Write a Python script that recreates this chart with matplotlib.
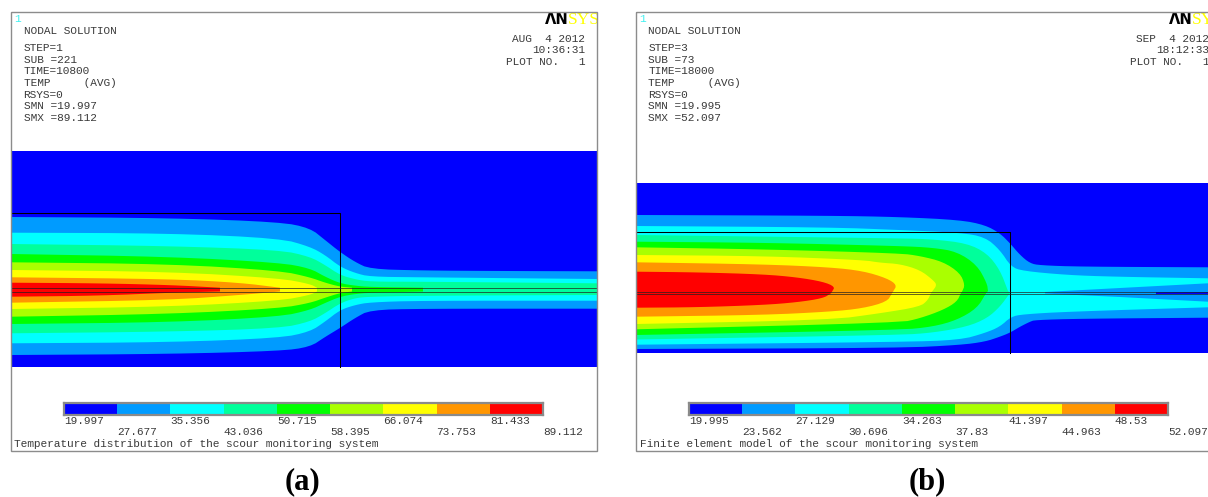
import matplotlib
matplotlib.use("Agg")
import matplotlib.pyplot as plt
from matplotlib.patches import Rectangle

W, H = 1208, 497
MONO = "Liberation Mono"
INK = "#3a3a3a"

band_colors = ["#0000FF", "#009BFF", "#00FFFF", "#00FF9B", "#00FF00",
               "#AAFF00", "#FFFF00", "#FF9600", "#FF0000"]

# ---- panel (a) contour boundaries (axial position, radial position)
a_up_1 = [(11,217),(170,218),(280,222),(310,228),(325,240),(340,252),(355,262),(370,269),(420,270.5),(500,271),(597,271.3)]
a_lo_1 = [(11,355),(170,354),(280,351),(310,347),(325,337),(340,328),(355,318),(370,310),(420,308.7),(597,308.7)]
a_up_2 = [(11,232.7),(170,233.3),(280,238.3),(310,246.7),(325,255),(340,266.7),(355,273),(370,276.7),(420,277.3),(597,279)]
a_lo_2 = [(11,343.3),(170,342.3),(280,338),(310,331.7),(325,321.7),(340,310),(355,305),(370,302.3),(420,300.7),(597,300.7)]
a_up_3 = [(11,244),(170,246),(280,250),(310,256.7),(325,265),(340,275),(355,279.3),(370,281.7),(420,281.7),(597,283.3)]
a_lo_3 = [(11,333.3),(170,331.7),(280,328.3),(310,321.7),(325,313.3),(340,303.3),(355,298),(370,296.7),(420,295.7),(597,295)]
a_up_4 = [(11,254),(170,256.7),(280,262.7),(310,268.3),(325,276.7),(340,283.3),(355,285.7),(370,287),(423,287.7)]
a_lo_4 = [(11,324),(170,322.3),(280,316.7),(310,310),(325,303),(340,296.7),(355,294),(370,292.7),(423,291.5)]
a_up_5 = [(11,262.3),(170,264),(280,270.7),(310,277.3),(325,282.7),(340,286.7),(352,287.7)]
a_lo_5 = [(11,316.7),(170,314),(280,308.3),(310,303),(325,297.7),(340,293),(352,291.5)]
a_up_6 = [(11,270),(170,271.7),(280,278.3),(310,284),(317,287.7)]
a_lo_6 = [(11,309),(170,306.7),(280,300.7),(310,295),(317,291.5)]
a_up_7 = [(11,277.3),(170,279),(240,282.7),(280,287.7)]
a_lo_7 = [(11,302.7),(170,300),(240,295),(280,291.5)]
a_up_8 = [(11,282.7),(100,283.3),(170,285),(220,287.7)]
a_lo_8 = [(11,296.7),(100,295.7),(170,292.7),(220,291.5)]

# ---- panel (b) contour boundaries
b_up_1 = [(636,215),(830,215.7),(900,217),(960,220),(985,225),(1000,233.3),(1010,243.3),(1020,255),(1030,263.3),(1040,265.3),(1080,266.7),(1208,267.3)]
b_lo_1 = [(636,349),(900,348),(960,345),(985,341.7),(1000,336.7),(1010,332.7),(1020,326.7),(1030,321.7),(1035,320),(1080,318.7),(1208,317.7)]
b_up_2 = [(636,226),(830,227.3),(900,230),(960,232.7),(985,237),(1000,250),(1011,266.7),(1023,271),(1067,275),(1113,276.7),(1208,278.3)]
b_lo_2 = [(636,344.7),(900,342),(960,340),(985,333),(1000,326.7),(1011,316.7),(1023,314.3),(1067,311.7),(1208,307.3)]
b_up_3 = [(636,235),(900,238.3),(933,239.3),(967,243.3),(987,253.3),(1000,270),(1008,291)]
b_lo_3 = [(636,339.5),(900,335),(933,332.7),(967,326.7),(987,318.3),(1000,306.7),(1010,293)]
b_up_4 = [(636,241.7),(763,242.7),(900,246),(933,247.7),(957,251.7),(977,265),(987,283.3),(988,291)]
b_lo_4 = [(636,335),(900,330),(933,326.7),(957,320),(977,308.3),(986,293.3)]
b_up_5 = [(636,247.3),(763,249.3),(900,253.3),(920,256),(943,261.7),(960,273),(965,285),(962,291.7)]
b_lo_5 = [(636,329.3),(900,322.7),(920,318.3),(943,310),(957,301.7),(961,292.7)]
b_up_6 = [(636,255),(763,256),(863,260),(880,262.7),(900,264),(920,270),(933,280),(937,285),(932,291.7)]
b_lo_6 = [(636,324),(830,320),(880,313.3),(920,306.7),(928,300),(931,292.7)]
b_up_7 = [(636,262.3),(763,264.3),(830,267.3),(863,271),(887,278.3),(897,285),(893,291.7)]
b_lo_7 = [(636,316.7),(763,315),(830,311.7),(863,308.3),(887,301.7),(892,293.3)]
b_up_8 = [(636,271.7),(697,272.3),(763,274.3),(797,277.3),(823,281.7),(835,286.7),(832,291.7)]
b_lo_8 = [(636,307.7),(697,307.3),(763,305),(797,302.3),(823,298.3),(831,293.3)]
b_wedge_up = [(1045,292),(1120,288),(1208,283.3)]
b_wedge_lo = [(1045,293.5),(1120,297),(1208,301.7)]
b_core_up = [(1156,291.7),(1208,291.7)]
b_core_lo = [(1156,293.7),(1208,293.7)]
b_island_1 = [(1024.7,284),(1031,280.6),(1037,280),(1045.3,283.5),(1040,286.8),(1031,287.7)]
b_island_2 = [(1025,301.5),(1031,298),(1037,297.7),(1045.3,301.7),(1039,304.8),(1032,305.7)]

# ---- legend levels and labels
a_levels = [19.997, 27.677, 35.356, 43.036, 50.715, 58.395, 66.074, 73.753, 81.433, 89.112]
a_labels = ["19.997", "27.677", "35.356", "43.036", "50.715", "58.395", "66.074", "73.753", "81.433", "89.112"]
b_levels = [19.995, 23.562, 27.129, 30.696, 34.263, 37.83, 41.397, 44.963, 48.53, 52.097]
b_labels = ["19.995", "23.562", "27.129", "30.696", "34.263", "37.83", "41.397", "44.963", "48.53", "52.097"]

a_info = ["STEP=1", "SUB =221", "TIME=10800", "TEMP     (AVG)", "RSYS=0", "SMN =19.997", "SMX =89.112"]
b_info = ["STEP=3", "SUB =73", "TIME=18000", "TEMP     (AVG)", "RSYS=0", "SMN =19.995", "SMX =52.097"]
a_stamp = ["AUG  4 2012", "10:36:31", "PLOT NO.   1"]
b_stamp = ["SEP  4 2012", "18:12:33", "PLOT NO.   1"]
a_title = "Temperature distribution of the scour monitoring system"
b_title = "Finite element model of the scour monitoring system"

fig = plt.figure(figsize=(W / 100, H / 100), dpi=100, facecolor="white")
ax = fig.add_axes([0, 0, 1, 1])
ax.set_xlim(0, W)
ax.set_ylim(H, 0)
ax.axis("off")


def round_corners(pts, passes=2):
    # Corner cutting for the drawn outline only; end points stay where they are.
    for _ in range(passes):
        out = [pts[0]]
        for (x0, y0), (x1, y1) in zip(pts, pts[1:]):
            out.append((0.75 * x0 + 0.25 * x1, 0.75 * y0 + 0.25 * y1))
            out.append((0.25 * x0 + 0.75 * x1, 0.25 * y0 + 0.75 * y1))
        out.append(pts[-1])
        pts = out
    return pts


def band(up, lo, color, z=2, smooth=True):
    u, l = (round_corners(up), round_corners(lo)) if smooth else (up, lo)
    pts = list(u) + list(l)[::-1]
    ax.fill([p[0] for p in pts], [p[1] for p in pts], color=color, lw=0, zorder=z)


def colorbar(x0, levels, labels):
    cax = fig.add_axes([x0 / W, 1 - 414.5 / H, 479 / W, 11.5 / H])
    cax.barh(0, [b - a for a, b in zip(levels, levels[1:])], left=levels[:-1],
             height=1, color=band_colors, lw=0)
    cax.set_xlim(levels[0], levels[-1])
    cax.set_ylim(-0.5, 0.5)
    cax.set_xticks([])
    cax.set_yticks([])
    for s in cax.spines.values():
        s.set_color("#8a8a8a")
        s.set_linewidth(1.6)
    for i, (v, t) in enumerate(zip(levels, labels)):
        y = 7.0 if i % 2 == 0 else 17.6
        if i == len(levels) - 1:
            y = 17.6
        cax.annotate(t, xy=(v, 0), xycoords=("data", "axes fraction"),
                     xytext=(0, -y * 0.72), textcoords="offset points",
                     ha="left", va="center", family=MONO, fontsize=7.97, color=INK)


def panel(x0, x1, top, bot, px, stamp_x, info, stamp, title, levels, labels,
          bar_x, boxtop, boxright, line_y, bands):
    ax.add_patch(Rectangle((x0, 12), x1 - x0, 439, fill=False, ec="#8c8c8c", lw=1, zorder=6))
    ax.add_patch(Rectangle((x0, top), x1 - x0, bot - top, color=band_colors[0], lw=0, zorder=1))
    for i, (u, l) in enumerate(bands):
        band(u, l, band_colors[i + 1])
    ax.plot([x0, boxright, boxright], [boxtop, boxtop, bot], color="black", lw=0.75, zorder=5)
    for y in line_y:
        ax.plot([x0, x1], [y, y], color="#202020", lw=0.65, alpha=0.75, zorder=5)
    ax.text(px - 9, 19.5, "1", family=MONO, fontsize=8, color="#40f0f0", ha="left", va="center")
    ax.text(px, 31, "NODAL SOLUTION", family=MONO, fontsize=7.97, color=INK, ha="left", va="center")
    for i, t in enumerate(info):
        ax.text(px, 48.3 + i * 11.6, t, family=MONO, fontsize=7.97, color=INK, ha="left", va="center")
    for y, t in zip((38.5, 50, 62), stamp):
        ax.text(stamp_x, y, t, family=MONO, fontsize=7.97, color=INK, ha="right", va="center")
    ax.text(stamp_x - 40, 20, "\u039bN", family="DejaVu Sans", weight="bold", fontsize=10.5,
            color="black", ha="left", va="center")
    ax.text(stamp_x - 17.5, 20, "SYS", family="Liberation Serif", fontsize=12.5,
            color="#FFFF00", ha="left", va="center")
    ax.text(x0 + 3.5, 444, title, family=MONO, fontsize=7.97, color=INK, ha="left", va="center", zorder=7)
    colorbar(bar_x, levels, labels)


panel(11, 597, 151, 367, 23.5, 585, a_info, a_stamp, a_title, a_levels, a_labels, 64, 212.5, 339.7,
      (287.7, 291.5),
      [(a_up_1, a_lo_1), (a_up_2, a_lo_2), (a_up_3, a_lo_3), (a_up_4, a_lo_4),
       (a_up_5, a_lo_5), (a_up_6, a_lo_6), (a_up_7, a_lo_7), (a_up_8, a_lo_8)])
panel(636, 1220, 183, 353, 648.5, 1209, b_info, b_stamp, b_title, b_levels, b_labels, 689, 231.5, 1010.3,
      (291.7, 293.7),
      [(b_up_1, b_lo_1), (b_up_2, b_lo_2), (b_up_3, b_lo_3), (b_up_4, b_lo_4),
       (b_up_5, b_lo_5), (b_up_6, b_lo_6), (b_up_7, b_lo_7), (b_up_8, b_lo_8)])
band(b_wedge_up, b_wedge_lo, band_colors[1], z=3, smooth=False)
band(b_core_up, b_core_lo, band_colors[0], z=4, smooth=False)
band(b_island_1, b_island_1, band_colors[3], z=3, smooth=False)
band(b_island_2, b_island_2, band_colors[3], z=3, smooth=False)

ax.text(303, 482, "(a)", family="Liberation Serif", weight="bold", fontsize=22, ha="center", va="center", color="black")
ax.text(927, 482, "(b)", family="Liberation Serif", weight="bold", fontsize=22, ha="center", va="center", color="black")

fig.savefig("out.png", dpi=100, facecolor="white")
